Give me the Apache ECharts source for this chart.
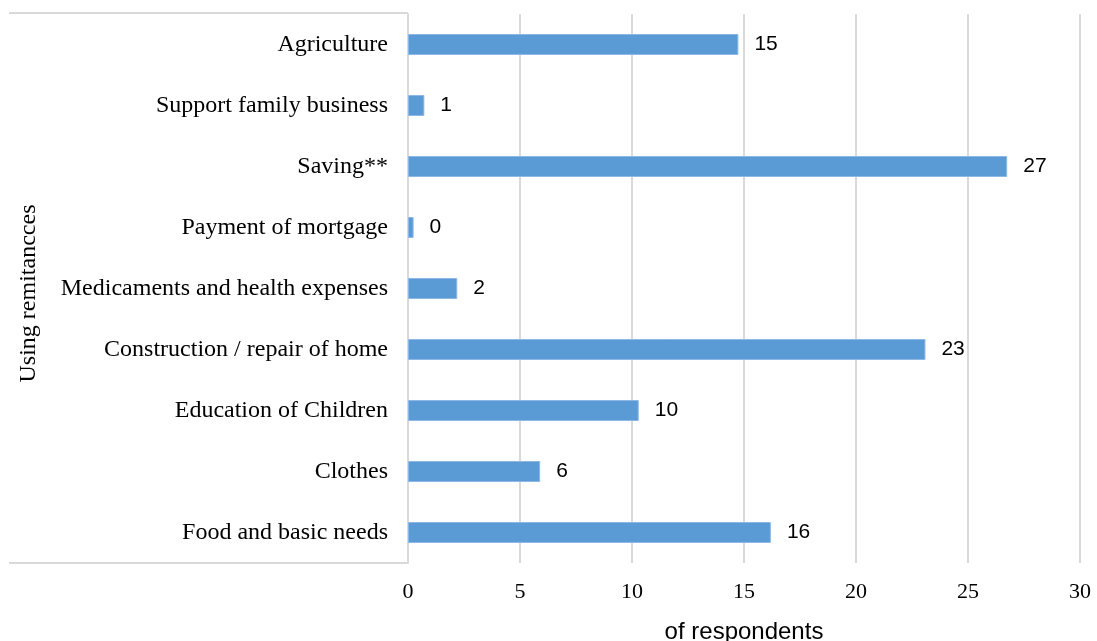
<!DOCTYPE html>
<html>
<head>
<meta charset="utf-8">
<script src="https://cdn.jsdelivr.net/npm/echarts@6/dist/echarts.min.js"></script>
<style>
  html, body { margin: 0; padding: 0; background: #fff; }
  #chart { width: 1097px; height: 641px; }
</style>
</head>
<body>
<div id="chart"></div>
<script>
// categories, bottom to top (as the axis draws them)
var categories = ['Food and basic needs', 'Clothes', 'Education of Children',
  'Construction / repair of home', 'Medicaments and health expenses',
  'Payment of mortgage', 'Saving**', 'Support family business', 'Agriculture'];
// bar lengths
var barValues = [16.2, 5.9, 10.3, 23.1, 2.2, 0.25, 26.75, 0.73, 14.75];
// numbers printed beside the bars
var labelValues = [16, 6, 10, 23, 2, 0, 27, 1, 15];
var xTicks = [0, 5, 10, 15, 20, 25, 30];

var myChart = echarts.init(document.getElementById('chart'));

var option = {
  backgroundColor: '#fff',
  animation: false,
  grid: { left: 408, right: 17, top: 14, bottom: 78, outerBoundsMode: 'none', containLabel: false },
  xAxis: {
    type: 'value',
    min: xTicks[0],
    max: xTicks[xTicks.length - 1],
    interval: 5,
    name: 'of respondents',
    nameLocation: 'middle',
    nameGap: 57,
    nameTextStyle: { fontFamily: 'Liberation Sans', fontSize: 24, color: '#000' },
    axisLine: { show: false },
    axisTick: { show: false },
    axisLabel: { fontFamily: 'Liberation Serif', fontSize: 22, color: '#000', margin: 18 },
    splitLine: { show: true, lineStyle: { color: '#d9d9d9', width: 2 } }
  },
  yAxis: {
    type: 'category',
    data: categories,
    name: 'Using remitancces',
    nameLocation: 'middle',
    nameGap: 367,
    nameTextStyle: { fontFamily: 'Liberation Serif', fontSize: 24, color: '#000', padding: [0, 10, 0, 0] },
    axisLine: { show: true, lineStyle: { color: '#d9d9d9', width: 2 } },
    axisTick: { show: false },
    axisLabel: { fontFamily: 'Liberation Serif', fontSize: 24, color: '#000', margin: 20 }
  },
  graphic: [
    { type: 'line', shape: { x1: 9, y1: 13, x2: 408, y2: 13 }, style: { stroke: '#d9d9d9', lineWidth: 2 } },
    { type: 'line', shape: { x1: 9, y1: 563, x2: 408, y2: 563 }, style: { stroke: '#d9d9d9', lineWidth: 2 } }
  ],
  series: [{
    type: 'bar',
    data: barValues,
    barWidth: 21,
    itemStyle: { color: '#5b9bd5', borderColor: '#8db8e6', borderWidth: 1 },
    label: {
      show: true,
      position: 'right',
      distance: 16,
      fontFamily: 'Liberation Sans',
      fontSize: 21,
      color: '#000',
      formatter: function (p) { return labelValues[p.dataIndex]; }
    }
  }]
};

myChart.setOption(option, true);
</script>
</body>
</html>
